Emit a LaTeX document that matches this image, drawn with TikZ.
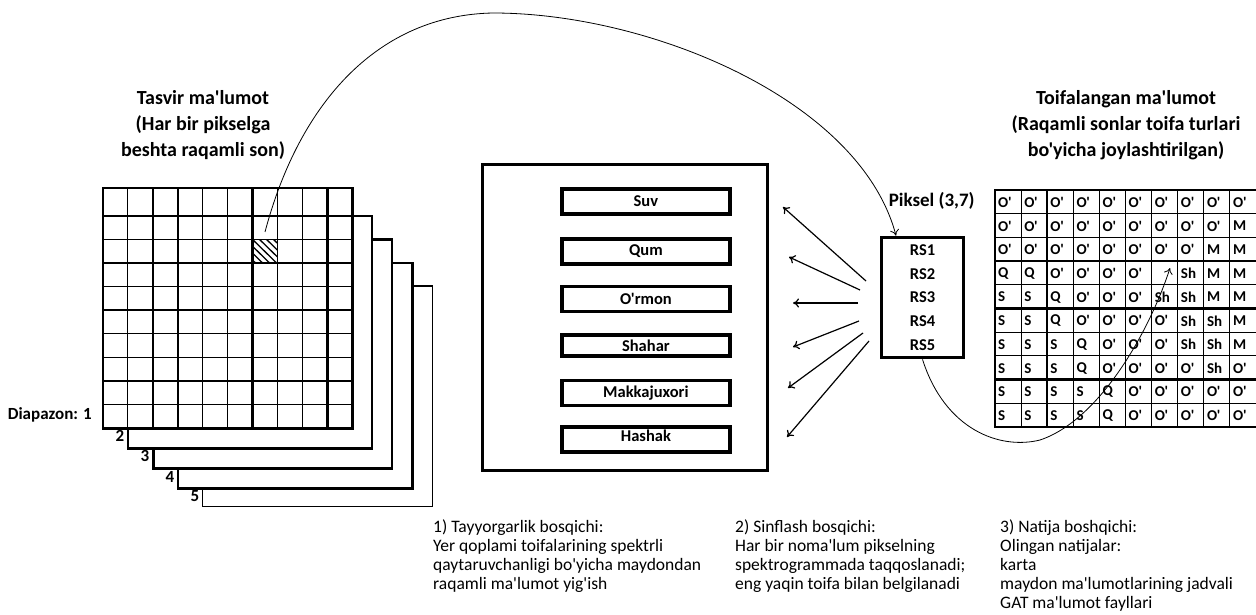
\documentclass[tikz,border=0pt]{standalone}
\usepackage{fontspec}
\setmainfont{Carlito}[Ligatures=TeXOff]
\usetikzlibrary{arrows.meta}
\begin{document}
\begin{tikzpicture}[x=1pt,y=-1pt,
  thinline/.style={line width=1.1pt},
  thickline/.style={line width=2.4pt},
  layer/.style={draw, fill=white, line width=2.4pt},
  title/.style={font=\fontsize{20}{26}\selectfont\bfseries, align=center, inner sep=0pt},
  lbl/.style={font=\fontsize{17}{19}\selectfont\bfseries, inner sep=0pt},
  clsbox/.style={draw, line width=3.4pt, minimum width=168pt, minimum height=25pt, inner sep=0pt, font=\fontsize{16.5}{18}\selectfont\bfseries},
  cell/.style={font=\fontsize{15}{16}\selectfont\bfseries, anchor=west, inner sep=0pt},
  note/.style={font=\fontsize{17.5}{19}\selectfont, align=left, anchor=north west, inner sep=0pt},
  conn/.style={line width=1.2pt, -{To[length=6pt,width=9pt]}},
  curve/.style={line width=0.8pt, -{To[length=6pt,width=9pt]}}]
\useasboundingbox (0,0) rectangle (1256,615);

% ---------- left stacked layers ----------
\draw[thinline, fill=white] (202.7,286) rectangle (432.7,506.7);
\draw[layer] (177.7,262.7) rectangle (412.3,488.3);
\draw[layer] (153.3,239.3) rectangle (391.7,468.3);
\draw[layer] (127.7,216) rectangle (371.7,448.3);
\fill[white] (103,188) rectangle (352.3,428.3);
% grid lines
\foreach \y in {216,239.5,286.5,333.5,357.5,404.5}
  \draw[thinline] (103,\y) -- (352.3,\y);
\foreach \y in {263,310,381}
  \draw[thickline] (103,\y) -- (352.3,\y);
\foreach \i in {1,4,5,7,8}
  \draw[thinline] ({103+24.93*\i},188) -- ({103+24.93*\i},428.3);
\foreach \i in {2,3,6,9}
  \draw[thickline] ({103+24.93*\i},188) -- ({103+24.93*\i},428.3);
\draw[thickline] (103,188) rectangle (352.3,428.3);
% hatched pixel
\begin{scope}
  \clip (252.6,239.5) rectangle (277.5,263);
  \foreach \d in {-28,-21,...,28}
    \draw[line width=1.3pt] ({252.6+\d},239.5) -- ({252.6+\d+24},263);
\end{scope}
\coordinate (hatch) at (265,232);

\node[lbl, anchor=east] (band1) at (92,415) {Diapazon: 1};
\node[lbl] (band2) at (120,436) {2};
\node[lbl] (band3) at (145,456) {3};
\node[lbl] (band4) at (170,477) {4};
\node[lbl] (band5) at (195,496) {5};

\node[title] (ltitle) at (203,125) {Tasvir ma'lumot\\(Har bir pikselga\\beshta raqamli son)};
\node[title] (rtitle) at (1126,125) {Toifalangan ma'lumot\\(Raqamli sonlar toifa turlari\\bo'yicha joylashtirilgan)};

% ---------- middle class box ----------
\node[draw, line width=3pt, minimum width=285pt, minimum height=306.7pt, inner sep=0pt] (mid) at (625.2,317.4) {};
\node[clsbox] (suv) at (645.9,201.5) {Suv};
\node[clsbox] (qum) at (645.9,251.5) {Qum};
\node[clsbox] (ormon) at (645.9,298.8) {O'rmon};
\node[clsbox, minimum height=21pt] (shahar) at (645.9,345.5) {Shahar};
\node[clsbox] (makka) at (645.9,392.7) {Makkajuxori};
\node[clsbox] (hashak) at (645.9,439.5) {};
\node[font=\fontsize{16.5}{18}\selectfont\bfseries, inner sep=0pt] (hashaktxt) at (645.9,436) {Hashak};

% ---------- pixel box ----------
\node[font=\fontsize{19}{21}\selectfont\bfseries, inner sep=0pt] (piktitle) at (931.7,201) {Piksel (3,7)};
\node[draw, line width=3.4pt, minimum width=81.6pt, minimum height=120.4pt, inner sep=0pt,
      align=center, font=\fontsize{16.5}{23.75}\selectfont\bfseries] (pix) at (922.5,297.5)
      {RS1\\RS2\\RS3\\RS4\\RS5};

\coordinate (s1) at (866,281); \coordinate (e1) at (783,207);
\coordinate (s2) at (860,290); \coordinate (e2) at (789,257);
\coordinate (s3) at (858,303); \coordinate (e3) at (793,303);
\coordinate (s4) at (859,321); \coordinate (e4) at (793,347);
\coordinate (s5) at (863,333); \coordinate (e5) at (788,388);
\coordinate (s6) at (869,341); \coordinate (e6) at (787,437);
\foreach \k in {1,...,6} \draw[conn] (s\k) -- (e\k);

% ---------- right classified grid ----------
\fill[white] (995,190) rectangle (1256,427);
\foreach \j in {1,2,4,6,7,9}
  \draw[thinline] (995,{190+23.7*\j}) -- (1256,{190+23.7*\j});
\foreach \j in {3,5,8}
  \draw[thickline] (995,{190+23.7*\j}) -- (1256,{190+23.7*\j});
\foreach \i in {1,3,4,5,6,7,8,9}
  \draw[thinline] ({995+26.1*\i},190) -- ({995+26.1*\i},427);
\draw[thickline] ({995+26.1*2},190) -- ({995+26.1*2},427);
\draw[thickline] (1256,190) -- (995,190) -- (995,427) -- (1256,427);

\foreach \row [count=\r from 0] in {
  {O',O',O',O',O',O',O',O',O',O'},
  {O',O',O',O',O',O',O',O',O',M},
  {O',O',O',O',O',O',O',O',M,M},
  {Q,Q,O',O',O',O',{},Sh,M,M},
  {S,S,Q,O',O',O',Sh,Sh,M,M},
  {S,S,Q,O',O',O',O',Sh,Sh,M},
  {S,S,S,Q,O',O',O',Sh,Sh,M},
  {S,S,S,Q,O',O',O',O',Sh,O'},
  {S,S,S,S,Q,O',O',O',O',O'},
  {S,S,S,S,Q,O',O',O',O',O'}}
  \foreach \t [count=\c from 0] in \row
    \node[cell] (g\r-\c) at ({995+26.1*\c+3},{190+23.7*\r+12.3}) {\t};

% ---------- curves ----------
\draw[curve] (hatch) .. controls (300,100) and (380,15) .. (493,13)
  .. controls (650,13) and (860,100) .. ([xshift=16pt]pix.north west);
\coordinate (target) at (1170,268);
\draw[curve] (pix.south) .. controls (945,430) and (1000,450) .. (1040,440)
  .. controls (1100,420) and (1150,330) .. (target);

% ---------- bottom notes ----------
\node[note] (n1) at (433,519) {1) Tayyorgarlik bosqichi:\\Yer qoplami toifalarining spektrli\\qaytaruvchanligi bo'yicha maydondan\\raqamli ma'lumot yig'ish};
\node[note] (n2) at (735,519) {2) Sinflash bosqichi:\\Har bir noma'lum pikselning\\spektrogrammada taqqoslanadi;\\eng yaqin toifa bilan belgilanadi};
\node[note] (n3) at (1000,519) {3) Natija boshqichi:\\Olingan natijalar:\\karta\\maydon ma'lumotlarining jadvali\\GAT ma'lumot fayllari};
\end{tikzpicture}
\end{document}
